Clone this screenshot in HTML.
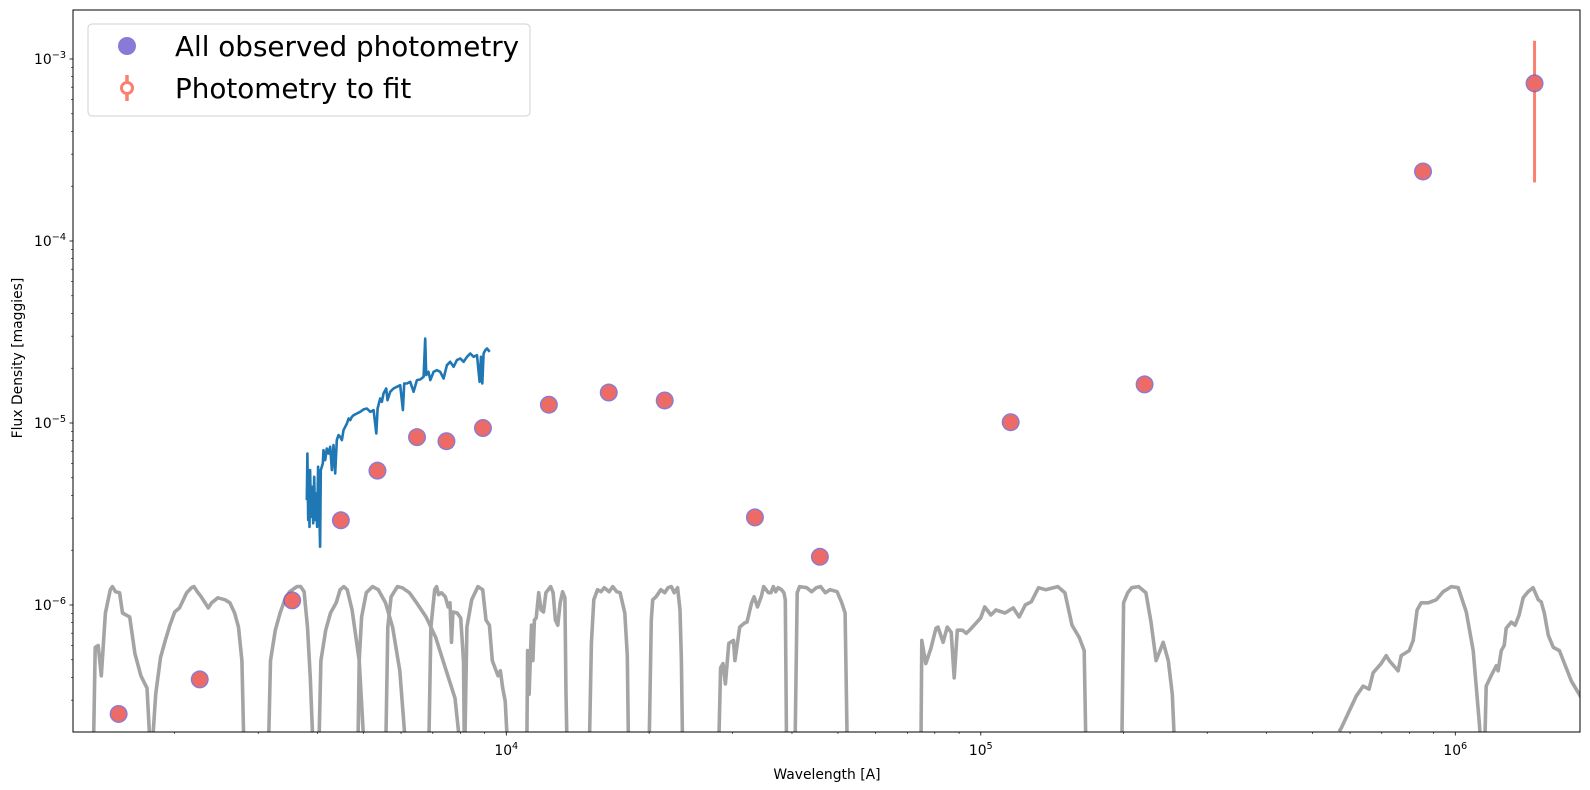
<!DOCTYPE html>
<html><head><meta charset="utf-8"><style>
html,body{margin:0;padding:0;background:#fff;}
svg{display:block;font-family:"DejaVu Sans","Liberation Sans",sans-serif;}
</style></head><body>
<svg id="chart" width="1590" height="790" viewBox="0 0 1590 790" xmlns="http://www.w3.org/2000/svg">
<defs><clipPath id="plotclip"><rect x="73" y="10" width="1507" height="722"/></clipPath></defs>
<rect x="73" y="10" width="1507" height="722" fill="#fff"/>
<g id="filters" clip-path="url(#plotclip)"></g>
<g id="spec" clip-path="url(#plotclip)"></g>
<g id="phot" clip-path="url(#plotclip)"></g>
<rect x="73" y="10" width="1507" height="722" fill="none" stroke="#000" stroke-width="1"/>
<g id="axes"></g>
<text x="827" y="779" font-size="13.9" text-anchor="middle">Wavelength [A]</text>
<text x="0" y="0" font-size="13.9" text-anchor="middle" transform="translate(22,358) rotate(-90)">Flux Density [maggies]</text>
<g>
<rect x="88" y="24" width="442" height="92" rx="4" fill="#fff" fill-opacity="0.8" stroke="#d0d0d0" stroke-width="1"/>
<g>
<circle cx="127" cy="46" r="9" fill="#6a5acd" fill-opacity="0.8"/>
<text x="175" y="56" font-size="27.8">All observed photometry</text>
</g>
<g>
<line x1="127" y1="75" x2="127" y2="101" stroke="#fa8072" stroke-width="3.5"/>
<circle cx="127" cy="88" r="5.5" fill="#fff" stroke="#fa8072" stroke-width="3"/>
<text x="175" y="98" font-size="27.8">Photometry to fit</text>
</g>
</g>
</svg>
<script>
// ---- data ----
const photWave = [1524,2259,3538,4481,5351,6484,7480,8929,12295,16440,21570,33420,45800,115600,221400,855000,1469000];
const photFlux = [2.52e-7,3.9e-7,1.06e-6,2.92e-6,5.47e-6,8.36e-6,7.94e-6,9.38e-6,1.26e-5,1.47e-5,1.33e-5,3.03e-6,1.84e-6,1.01e-5,1.63e-5,2.41e-4,7.35e-4];
const photErr = [2e-9,3e-9,1e-8,3e-8,5e-8,8e-8,8e-8,9e-8,1.2e-7,1.5e-7,1.3e-7,3e-8,2e-8,1e-7,2e-7,3e-6,5.25e-4];

const specWave = [3798,3810,3823,3836,3848,3860,3879,3898,3917,3936,3955,3974,3993,4013,4033,4052,4065,4085,4105,4119,4152,4186,4220,4254,4289,4324,4359,4394,4430,4466,4503,4539,4576,4613,4651,4688,4727,4766,4843,4921,5003,5085,5168,5251,5321,5355,5423,5467,5511,5584,5620,5693,5786,5881,5977,6054,6094,6173,6274,6376,6479,6586,6693,6747,6780,6857,6914,7026,7141,7257,7376,7496,7618,7744,7870,7998,8130,8262,8396,8533,8673,8786,8843,8900,8957,9030,9105,9224];
const specFlux = [3.77,6.80,2.93,4.86,2.69,5.51,3.05,4.46,2.81,5.06,2.93,4.10,2.69,5.75,3.46,2.09,5.51,5.75,5.99,7.09,6.25,7.24,6.80,7.40,5.51,7.56,5.28,8.05,8.58,8.40,8.05,9.13,9.53,9.94,10.59,10.37,10.81,11.04,11.28,11.52,11.87,12.02,11.52,11.77,8.76,12.02,13.64,13.07,14.53,15.47,13.35,14.84,15.47,15.80,16.14,11.77,16.48,16.48,16.84,14.84,17.20,17.34,17.94,29.12,18.32,19.11,17.20,19.11,19.51,19.11,17.56,20.79,21.68,20.36,22.15,22.62,21.68,23.10,24.09,23.10,23.59,16.84,23.10,16.48,24.09,25.13,25.67,24.60];
const SPEC_UNIT = 1e-6;

// filter transmission curves (scaled by FILTER_SCALE)
const FILTER_SCALE = 1.11e-6;
const fuvWave = [1347,1360,1380,1401,1429,1464,1479,1501,1531,1553,1608,1649,1698,1749,1784];
const fuvTrans = [0.12,0.527,0.540,0.368,0.814,1.094,1.137,1.066,1.053,0.814,0.774,0.488,0.368,0.315,0.12];
const nuvWave = [1784,1824,1867,1911,1955,2001,2048,2121,2171,2197,2233,2275,2355,2393,2467,2555,2615,2676,2727,2772,2804];
const nuvTrans = [0.12,0.291,0.463,0.576,0.698,0.825,0.868,1.053,1.122,1.137,1.066,1.0,0.868,0.926,0.987,0.962,0.926,0.814,0.681,0.446,0.12];
const uWave = [3147,3185,3260,3336,3414,3494,3620,3688,3749,3811,3863,3927];
const uTrans = [0.12,0.446,0.655,0.814,0.962,1.066,1.137,1.137,1.066,0.681,0.358,0.12];
const gWave = [4019,4067,4162,4260,4381,4464,4546,4621,4732,4898,5038];
const gTrans = [0.12,0.446,0.655,0.814,0.926,1.094,1.137,1.094,0.846,0.446,0.12];
const rWave = [4863,4898,4955,5070,5225,5374,5565,5760,5965,6177];
const rTrans = [0.12,0.446,0.774,1.053,1.137,1.094,0.926,0.681,0.392,0.12];
const iwWave = [5565,5627,5718,5896,6033,6250,6471,6777,7100,7438,7796,8067];
const iwTrans = [0.12,0.681,1.0,1.137,1.122,1.053,0.926,0.774,0.598,0.407,0.277,0.12];
const iWave = [6855,6936,7064,7130,7197,7300,7438,7541,7609,7666,7719,7881,8013,8124,8165];
const iTrans = [0.12,0.681,1.094,1.137,1.026,1.053,1.0,0.880,0.926,0.562,0.825,0.814,0.764,0.446,0.12];
const zWave = [8165,8260,8454,8712,8917,9062,9211,9344,9605,9719,9829,9945,10109];
const zTrans = [0.12,0.681,0.962,1.137,1.094,0.744,0.698,0.446,0.368,0.392,0.315,0.267,0.12];
const jWave = [11040,11090,11170,11300,11380,11460,11560,11700,11840,11980,12120,12400,12550,12690,12840,12990,13140,13290,13360,13450];
const jTrans = [0.12,0.506,0.291,0.698,0.446,0.744,0.764,1.053,0.846,0.825,1.053,1.137,1.053,0.744,0.698,0.926,1.066,0.987,0.291,0.12];
const hWave = [14940,15110,15290,15570,15830,16080,16470,16770,17090,17370,17770,17990,18110];
const hTrans = [0.12,0.554,0.962,1.094,1.066,1.122,1.066,1.137,1.066,1.053,0.814,0.475,0.12];
const kWave = [19970,20210,20350,20680,21170,21570,21920,22280,22590,22960,23230,23390,23550];
const kTrans = [0.12,0.744,0.962,1.0,1.094,1.053,1.122,1.137,1.053,1.122,0.846,0.446,0.12];
const w1Wave = [27970,28290,28620,28960,29440,30120,30330,31040,31770,32150,32890,33290,33830,34450,34870,35280,35680,36110,36540,36960,37390,38010,38460,38730,38990];
const w1Trans = [0.12,0.407,0.429,0.332,0.554,0.576,0.446,0.681,0.717,0.726,0.926,1.0,0.880,1.0,1.137,1.094,1.053,1.053,1.137,1.066,1.122,1.094,1.053,0.962,0.12];
const w2Wave = [40560,41020,41510,42970,43990,45020,45970,47010,48120,49800,50950,51760,52370];
const w2Trans = [0.12,1.053,1.137,1.122,1.066,1.122,1.137,1.053,1.094,1.066,0.926,0.814,0.12];
const w3Wave = [74730,75090,76590,78490,80460,81250,83270,84950,86640,87890,89240,91450,93270,95560,99950,101900,105000,107600,112500,117000,120500,124100,127800,132300,137000,145300,150400,155700,161200,165200,166800];
const w3Trans = [0.12,0.576,0.429,0.520,0.672,0.681,0.562,0.681,0.638,0.358,0.655,0.655,0.630,0.672,0.764,0.880,0.794,0.846,0.814,0.868,0.774,0.902,0.938,1.122,1.094,1.137,1.053,0.698,0.598,0.506,0.12];
const w4Wave = [198000,200000,204000,208000,215200,222800,228400,234100,242300,248400,253300,257100];
const w4Trans = [0.12,0.926,1.053,1.122,1.137,1.053,0.726,0.446,0.562,0.446,0.291,0.12];
const f70Wave = [569000,574600,618100,639300,658100,671200,697500,715000,725600,757800,769100,799600,815100,830900,847400,876800,911600,943200,981100,1014000,1055000,1091000,1123000,1140000];
const f70Trans = [0.182,0.189,0.284,0.323,0.311,0.382,0.429,0.475,0.446,0.392,0.475,0.506,0.576,0.846,0.926,0.926,0.962,1.066,1.137,1.122,0.825,0.506,0.206,0.12];
const f160Wave = [1151000,1162000,1190000,1220000,1231000,1250000,1268000,1280000,1312000,1337000,1363000,1390000,1424000,1459000,1496000,1517000,1540000,1570000,1609000,1657000,1756000,1861000];
const f160Trans = [0.12,0.323,0.368,0.418,0.392,0.506,0.540,0.672,0.726,0.698,0.794,0.987,1.066,1.122,0.962,0.938,0.814,0.614,0.527,0.506,0.345,0.267];

const filterWaves = [fuvWave,nuvWave,uWave,gWave,rWave,iwWave,iWave,zWave,jWave,hWave,kWave,w1Wave,w2Wave,w3Wave,w4Wave,f70Wave,f160Wave];
const filterTrans = [fuvTrans,nuvTrans,uTrans,gTrans,rTrans,iwTrans,iTrans,zTrans,jTrans,hTrans,kTrans,w1Trans,w2Trans,w3Trans,w4Trans,f70Trans,f160Trans];
const filterNames = ['fuv','nuv','u','g','r','i-wide','i','z','j','h','k','w1','w2','w3','w4','pacs70','pacs160'];

const xTickVals = [1e4,1e5,1e6];
const xTickExps = ['4','5','6'];
const yTickVals = [1e-6,1e-5,1e-4,1e-3];
const yTickExps = ['\u22126','\u22125','\u22124','\u22123'];

// ---- scales ----
const X0 = 506.3, XDEC = 474.5, Y0 = 605, YDEC = 182;
const PL = 73, PR = 1580, PT = 10, PB = 732;
function xS(w){ return X0 + XDEC*(Math.log10(w)-4); }
function yS(f){ return Y0 - YDEC*(Math.log10(f)+6); }
const NS = 'http://www.w3.org/2000/svg';
function mk(tag, attrs, parent){ const e=document.createElementNS(NS,tag); for(const k in attrs) e.setAttribute(k,attrs[k]); parent.appendChild(e); return e; }

// filters
const gF = document.getElementById('filters');
filterWaves.forEach((ws,i)=>{
  const tr = filterTrans[i];
  const d = ws.map((w,j)=>(j?'L':'M')+xS(w).toFixed(1)+' '+yS(tr[j]*FILTER_SCALE).toFixed(1)).join(' ');
  const p = mk('path',{d:d,fill:'none',stroke:'#a4a4a4','stroke-width':3.6,'stroke-linejoin':'round'},gF);
  
  
});

// spectrum
const gS = document.getElementById('spec');
const sd = specWave.map((w,j)=>(j?'L':'M')+xS(w).toFixed(1)+' '+yS(specFlux[j]*SPEC_UNIT).toFixed(1)).join(' ');
const sp = mk('path',{d:sd,fill:'none',stroke:'#1f77b4','stroke-width':2.6,'stroke-linejoin':'round'},gS);



// photometry
const gP = document.getElementById('phot');
photWave.forEach((w,i)=>{
  const cx = xS(w), cy = yS(photFlux[i]);
  const lo = Math.max(photFlux[i]-photErr[i],1e-9), hi = photFlux[i]+photErr[i];
  const eb = mk('line',{x1:cx,x2:cx,y1:yS(hi),y2:yS(lo),stroke:'#fa8072','stroke-width':3},gP);
  
  
  const c1 = mk('circle',{cx:cx,cy:cy,r:9,fill:'#6a5acd','fill-opacity':0.8},gP);
  
  
  const c2 = mk('circle',{cx:cx,cy:cy,r:7.6,fill:'#ec6b66'},gP);
  
  
});

// axes
const gA = document.getElementById('axes');
xTickVals.forEach((v,i)=>{
  const x = xS(v);
  mk('line',{x1:x,x2:x,y1:PB,y2:PB+3.5,stroke:'#000','stroke-width':0.8},gA);
  const t = mk('text',{x:x,y:PB+23,'font-size':13.9,'text-anchor':'middle'},gA);
  
  
  const a = document.createElementNS(NS,'tspan'); a.textContent='10'; t.appendChild(a);
  const b = document.createElementNS(NS,'tspan'); b.setAttribute('dy','-6'); b.setAttribute('font-size','9.7'); b.textContent=xTickExps[i]; t.appendChild(b);
});
for(let d=3; d<=6; d++){
  for(let m=2;m<=9;m++){
    const w = m*Math.pow(10,d), x = xS(w);
    if(x<PL||x>PR) continue;
    mk('line',{x1:x,x2:x,y1:PB,y2:PB+2,stroke:'#000','stroke-width':0.6},gA);
  }
}
yTickVals.forEach((v,i)=>{
  const y = yS(v);
  mk('line',{x1:PL,x2:PL-3.5,y1:y,y2:y,stroke:'#000','stroke-width':0.8},gA);
  const t = mk('text',{x:PL-7,y:y+5,'font-size':13.9,'text-anchor':'end'},gA);
  
  
  const a = document.createElementNS(NS,'tspan'); a.textContent='10'; t.appendChild(a);
  const b = document.createElementNS(NS,'tspan'); b.setAttribute('dy','-6'); b.setAttribute('font-size','9.7'); b.textContent=yTickExps[i]; t.appendChild(b);
});
for(let d=-7; d<=-3; d++){
  for(let m=2;m<=9;m++){
    const y = yS(m*Math.pow(10,d));
    if(y<PT||y>PB) continue;
    mk('line',{x1:PL,x2:PL-2,y1:y,y2:y,stroke:'#000','stroke-width':0.6},gA);
  }
}
</script>
</body></html>
